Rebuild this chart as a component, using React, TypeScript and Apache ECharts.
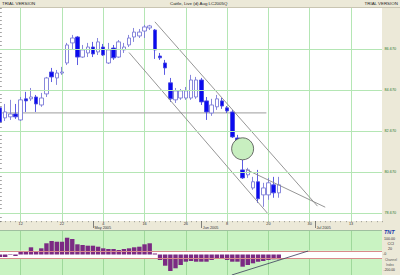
import React, { useEffect, useRef } from "react";
import * as echarts from "echarts";

const dates = [
  "2005-04-06","2005-04-07","2005-04-08","2005-04-11","2005-04-12","2005-04-13","2005-04-14","2005-04-15",
  "2005-04-18","2005-04-19","2005-04-20","2005-04-21","2005-04-22","2005-04-25","2005-04-26","2005-04-27",
  "2005-04-28","2005-04-29","2005-05-02","2005-05-03","2005-05-04","2005-05-05","2005-05-06","2005-05-09",
  "2005-05-10","2005-05-11","2005-05-12","2005-05-13","2005-05-16","2005-05-17","2005-05-18","2005-05-19",
  "2005-05-20","2005-05-23","2005-05-24","2005-05-25","2005-05-26","2005-05-27","2005-05-31","2005-06-01",
  "2005-06-02","2005-06-03","2005-06-06","2005-06-07","2005-06-08","2005-06-09","2005-06-10","2005-06-13",
  "2005-06-14","2005-06-15","2005-06-16","2005-06-17","2005-06-20","2005-06-21","2005-06-22","2005-06-23",
  "2005-06-24","2005-06-27","2005-06-28","2005-06-29","2005-06-30","2005-07-01","2005-07-05","2005-07-06",
  "2005-07-07","2005-07-08","2005-07-11","2005-07-12","2005-07-13","2005-07-14","2005-07-15","2005-07-18",
  "2005-07-19","2005-07-20","2005-07-21"
];

const opens = [83.80,83.31,83.36,83.50,83.21,84.24,84.24,84.33,83.94,84.48,85.55,85.26,85.50,85.99,86.97,87.26,86.28,86.48,86.77,86.53,86.77,85.99,86.72,86.28,86.63,86.87,87.26,87.31,87.55,87.70,87.60,86.33,85.99,85.02,84.19,84.28,84.28,84.28,84.33,85.16,84.14,83.55,83.85,84.14,83.80,83.60,82.33,80.77,80.53,79.89,80.19,79.55,79.55,80.04,79.65];
const closes = [83.11,83.60,83.50,83.36,84.19,84.14,84.33,83.99,84.28,85.26,85.31,85.50,85.55,86.87,87.21,86.28,86.63,86.77,86.43,87.02,86.38,86.63,86.24,87.02,86.77,87.21,87.50,87.50,87.75,87.80,86.63,86.24,85.75,84.24,84.63,84.63,84.63,85.16,85.16,84.09,83.60,83.94,84.24,83.89,83.65,82.38,81.94,80.38,80.77,80.19,79.36,79.89,80.14,79.65,80.04];
const highs = [83.94,83.99,84.19,83.99,84.33,84.58,84.77,84.43,84.53,85.31,85.75,85.65,85.80,86.97,87.36,87.31,86.87,86.97,87.02,87.21,86.92,86.97,86.87,87.11,86.97,87.36,87.70,87.65,87.85,87.85,87.65,86.48,86.14,85.26,84.77,84.72,84.82,85.41,85.31,85.26,84.33,84.24,84.43,84.28,83.89,83.70,82.48,81.26,80.87,80.43,80.77,80.14,80.38,80.43,80.43];
const lows = [83.02,83.16,83.21,83.26,83.16,83.60,84.14,83.60,83.85,84.33,85.06,84.92,85.41,85.89,86.63,85.89,86.24,86.28,86.28,86.38,86.33,85.94,86.14,86.24,86.48,86.77,87.02,87.21,87.21,87.60,86.19,86.14,85.41,84.09,84.04,84.19,84.19,84.19,84.24,83.94,83.21,83.41,83.70,83.75,83.55,82.33,81.75,80.33,80.38,79.80,79.16,78.97,79.31,79.41,79.41];

const cci = [-67,-67,-13,-40,93,93,192,93,165,299,360,341,341,448,413,272,253,235,235,208,165,147,147,120,147,165,192,208,272,299,27,-147,-299,-440,-368,-280,-192,-173,-192,-192,-192,-147,-101,-101,-147,-192,-192,-325,-280,-235,-192,-173,-147,-128,-128];

const priceTicks = [78.675, 80.675, 82.675, 84.675, 86.675];
const dayTickIdx = [4, 12, 20, 28, 36, 44, 52, 60, 68];
const monthStartIdx = [18, 39, 61];
const monthNames = ["May 2005", "Jun 2005", "Jul 2005"];

const trendUpper = [[30.0, 88.0], [61.5, 79.0]];
const trendLower = [[25.0, 86.5], [52.0, 78.6]];
const trendShort = [[47.6, 80.8], [63.0, 78.95]];
const supportLine = [[0, 83.55], [51.6, 83.55]];
const gapCircle = [[47.0, 81.8]];
const cciTrend = [[44.9, -547], [59.7, 93]];

const FONT = "Liberation Sans";
const BEIGE = "#ECE9D8";
const GRIDGREEN = "#b4e6b4";

function buildOption() {
  const candles = opens.map((o, i) => [o, closes[i], lows[i], highs[i]]);
  const trendStyle = { color: "#8a8a8a", width: 0.9 };
  return {
    animation: false,
    backgroundColor: "#ffffff",
    textStyle: { fontFamily: FONT },
    title: [
      { text: "TRIAL VERSION", left: 2, top: 1.6, padding: 0, textStyle: { fontSize: 4.4, fontWeight: "normal", color: "#222", fontFamily: FONT } },
      { text: "Cattle, Live (d) Aug LC2005Q", left: 170, top: 1.6, padding: 0, textStyle: { fontSize: 4.4, fontWeight: "normal", color: "#222", fontFamily: FONT } },
      { text: "TRIAL VERSION", right: 2, top: 1.6, padding: 0, textStyle: { fontSize: 4.4, fontWeight: "normal", color: "#222", fontFamily: FONT } },
    ],
    graphic: [
      { type: "rect", z: -5, shape: { x: 0, y: 0, width: 400, height: 8 }, style: { fill: BEIGE } },
      { type: "line", z: -4, shape: { x1: 0, y1: 7.5, x2: 400, y2: 7.5 }, style: { stroke: "#c9c5b2", lineWidth: 1 } },
      { type: "rect", z: -5, shape: { x: 382, y: 8, width: 18, height: 267 }, style: { fill: BEIGE } },
      { type: "rect", z: -5, shape: { x: 0, y: 221, width: 382, height: 9 }, style: { fill: BEIGE } },
      { type: "line", z: -4, shape: { x1: 0, y1: 230.5, x2: 382, y2: 230.5 }, style: { stroke: "#9fbf9f", lineWidth: 1 } },
      { type: "text", z: 20, x: 384, y: 229, style: { text: "TNT", fontSize: 5.5, fontWeight: "bold", fontStyle: "italic", fill: "#1c3aa8", fontFamily: FONT } },
      { type: "text", z: 20, x: 384, y: 236.5, style: { text: "100.00", fontSize: 3.6, fill: "#333", fontFamily: FONT } },
      { type: "text", z: 20, x: 387.5, y: 241.5, style: { text: "CCI", fontSize: 3.8, fill: "#333", fontFamily: FONT } },
      { type: "text", z: 20, x: 388, y: 246.5, style: { text: "20", fontSize: 3.6, fill: "#333", fontFamily: FONT } },
      { type: "text", z: 20, x: 383, y: 251.5, style: { text: "-0", fontSize: 3.6, fill: "#333", fontFamily: FONT } },
      { type: "text", z: 20, x: 385, y: 258, style: { text: "Channel", fontSize: 3.2, fill: "#555", fontFamily: FONT } },
      { type: "text", z: 20, x: 386, y: 263, style: { text: "Index", fontSize: 3.2, fill: "#555", fontFamily: FONT } },
      { type: "text", z: 20, x: 383.5, y: 268, style: { text: "-200.00", fontSize: 3.4, fill: "#333", fontFamily: FONT } },
    ],
    grid: [
      { left: 0, right: 18, top: 8, bottom: 54, show: true, backgroundColor: "#ffffff", borderWidth: 0 },
      { left: 0, right: 18, top: 231, bottom: 0, show: true, backgroundColor: "#c9f3c2", borderWidth: 0 },
    ],
    xAxis: [
      {
        type: "category", gridIndex: 0, data: dates, boundaryGap: false,
        axisLine: { show: false },
        axisTick: { show: true, interval: 0, length: 1.2, lineStyle: { color: "#777", width: 0.6 } },
        axisLabel: {
          show: true, fontSize: 3.8, lineHeight: 3.8, color: "#333", margin: 0.8, fontFamily: FONT,
          interval: (i: number) => dayTickIdx.includes(i),
          formatter: (v: string) => String(parseInt(v.slice(8), 10)),
        },
        splitLine: { show: true, interval: (i: number) => dayTickIdx.includes(i), lineStyle: { color: GRIDGREEN, width: 1 } },
      },
      {
        type: "category", gridIndex: 0, data: dates, boundaryGap: false, position: "bottom",
        axisLine: { show: false },
        axisTick: { show: true, interval: (i: number) => monthStartIdx.includes(i), length: 7, lineStyle: { color: "#555", width: 0.7 } },
        axisLabel: {
          show: true, fontSize: 3.8, lineHeight: 3.8, color: "#333", margin: 5, align: "left", padding: [0, 0, 0, 1.5], fontFamily: FONT,
          interval: (i: number) => monthStartIdx.includes(i),
          formatter: (_v: string, i: number) => monthNames[monthStartIdx.indexOf(i)] || "",
        },
        splitLine: { show: false },
      },
      { type: "value", gridIndex: 0, min: 0, max: 74, show: false },
      {
        type: "category", gridIndex: 1, data: dates, boundaryGap: false,
        axisLine: { show: false }, axisTick: { show: false }, axisLabel: { show: false },
        splitLine: { show: true, interval: (i: number) => dayTickIdx.includes(i), lineStyle: { color: "#9ed89a", width: 1 } },
      },
      { type: "value", gridIndex: 1, min: 0, max: 74, show: false },
    ],
    yAxis: [
      {
        type: "value", gridIndex: 0, position: "right", min: 78.275, max: 88.675, interval: 0.2,
        axisLine: { show: false }, axisLabel: { show: false }, splitLine: { show: false },
        axisTick: { show: true, length: 1.8, lineStyle: { color: "#666", width: 0.6 } },
      },
      {
        type: "value", gridIndex: 1, min: -547, max: 627,
        axisLine: { show: false }, axisLabel: { show: false }, splitLine: { show: false }, axisTick: { show: false },
      },
    ],
    series: [
      {
        name: "priceGrid", type: "line", xAxisIndex: 0, yAxisIndex: 0, data: [], z: 1, silent: true,
        markLine: {
          silent: true, symbol: "none", animation: false,
          lineStyle: { color: GRIDGREEN, type: "solid", width: 1 },
          label: { show: true, position: "end", distance: 2.5, fontSize: 3.8, color: "#2f7a2f", fontFamily: FONT, formatter: (p: any) => Number(p.value).toFixed(3) },
          data: priceTicks.map((v) => ({ yAxis: v })),
        },
      },
      {
        name: "LC2005Q", type: "candlestick", xAxisIndex: 0, yAxisIndex: 0, data: candles, barWidth: 4, z: 3,
        itemStyle: { color: "#ffffff", borderColor: "#7a7ad8", color0: "#0a0af0", borderColor0: "#4a4ae0", borderWidth: 0.9 },
      },
      { name: "support", type: "line", xAxisIndex: 2, yAxisIndex: 0, data: supportLine, symbol: "none", z: 2, lineStyle: { color: "#b0b0b0", width: 1.2 } },
      { name: "trendUpper", type: "line", xAxisIndex: 2, yAxisIndex: 0, data: trendUpper, symbol: "none", z: 4, lineStyle: trendStyle },
      { name: "trendLower", type: "line", xAxisIndex: 2, yAxisIndex: 0, data: trendLower, symbol: "none", z: 4, lineStyle: trendStyle },
      { name: "trendShort", type: "line", xAxisIndex: 2, yAxisIndex: 0, data: trendShort, symbol: "none", z: 4, lineStyle: trendStyle },
      {
        name: "gap", type: "scatter", xAxisIndex: 2, yAxisIndex: 0, data: gapCircle, symbol: "circle", symbolSize: 22, z: 5,
        itemStyle: { color: "#c8efc0", borderColor: "#4a4a4a", borderWidth: 0.8, opacity: 1 },
      },
      {
        name: "cciBand", type: "line", xAxisIndex: 3, yAxisIndex: 1, data: [], z: 1, silent: true,
        markArea: { silent: true, itemStyle: { color: "#ffffff", opacity: 1 }, data: [[{ yAxis: -100 }, { yAxis: 100 }]] },
      },
      {
        name: "CCI", type: "bar", xAxisIndex: 3, yAxisIndex: 1, data: cci, barWidth: 4.4, z: 3,
        itemStyle: { color: "#7b2a83" },
      },
      {
        name: "cciLevels", type: "line", xAxisIndex: 3, yAxisIndex: 1, data: [], z: 5, silent: true,
        markLine: {
          silent: true, symbol: "none", animation: false, label: { show: false },
          lineStyle: { color: "#d98a8a", type: "solid", width: 1 },
          data: [{ yAxis: 100 }, { yAxis: -100 }],
        },
      },
      { name: "cciTrend", type: "line", xAxisIndex: 4, yAxisIndex: 1, data: cciTrend, symbol: "none", z: 6, lineStyle: { color: "#3a3a5a", width: 0.8 } },
    ],
  };
}

export default function App() {
  const ref = useRef<HTMLDivElement>(null);
  useEffect(() => {
    if (!ref.current) return;
    const chart = echarts.init(ref.current, null, { renderer: "svg" });
    chart.setOption(buildOption() as any);
    return () => chart.dispose();
  }, []);
  return <div ref={ref} style={{ position: "fixed", left: 0, top: 0, width: 400, height: 275 }} />;
}
